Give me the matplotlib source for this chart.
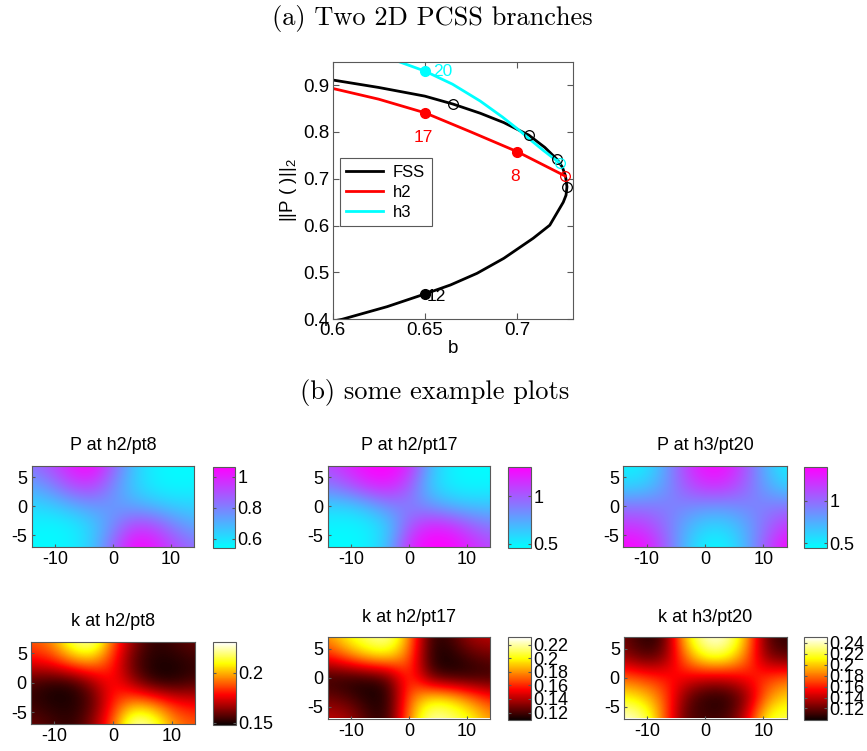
import numpy as np
import matplotlib
matplotlib.use('Agg')
import matplotlib.pyplot as plt
import matplotlib.ticker as ticker

plt.rcParams['font.family'] = ['Liberation Sans', 'DejaVu Sans']
plt.rcParams['mathtext.fontset'] = 'custom'
plt.rcParams['mathtext.rm'] = 'Liberation Sans'
plt.rcParams['axes.unicode_minus'] = False

# ---------------- (a) branch data ----------------
fss_b = [0.6, 0.625, 0.65, 0.6653, 0.68, 0.6928, 0.7063, 0.715, 0.7216, 0.7245,
         0.7262, 0.727, 0.7265, 0.725, 0.7177, 0.7087, 0.6928, 0.6783, 0.6639,
         0.65, 0.6296, 0.6052, 0.6]
fss_norm = [0.911, 0.895, 0.8765, 0.8595, 0.84, 0.82, 0.7933, 0.767, 0.7415, 0.725,
            0.706, 0.683, 0.665, 0.65, 0.601, 0.573, 0.5302, 0.4982, 0.4733,
            0.454, 0.427, 0.400, 0.396]

h2_b = [0.6, 0.625, 0.65, 0.675, 0.7, 0.715, 0.7261]
h2_norm = [0.893, 0.870, 0.841, 0.800, 0.758, 0.728, 0.7058]

h3_b = [0.628, 0.636, 0.65, 0.665, 0.68, 0.692, 0.701, 0.7063, 0.7144, 0.72, 0.7234]
h3_norm = [0.962, 0.95, 0.930, 0.902, 0.866, 0.832, 0.804, 0.786, 0.760, 0.743, 0.733]

# bifurcation points (open circles)
bp_fss_b = [0.6653, 0.7063, 0.7216, 0.7270]
bp_fss_norm = [0.8595, 0.7933, 0.7415, 0.683]
bp_h2 = (0.7261, 0.7058)
bp_h3 = (0.7234, 0.733)

# labelled solution points
pt_fss = (0.65, 0.454, '12')
pt_h2 = [(0.65, 0.841, '17'), (0.70, 0.758, '8')]
pt_h3 = (0.65, 0.930, '20')

# ---------------- (b) example fields (rows y=7..-7, cols x=-14..14) ----------------
P_h2_pt8 = [[0.84, 0.92, 1.03, 1.07, 0.87, 0.66, 0.57, 0.55, 0.55],
            [0.72, 0.80, 0.92, 0.94, 0.78, 0.64, 0.57, 0.55, 0.56],
            [0.62, 0.64, 0.70, 0.75, 0.75, 0.72, 0.68, 0.64, 0.63],
            [0.56, 0.55, 0.57, 0.64, 0.78, 0.94, 0.92, 0.80, 0.72],
            [0.55, 0.55, 0.57, 0.66, 0.87, 1.07, 1.03, 0.92, 0.84]]
P_h2_pt17 = [[1.08, 1.20, 1.32, 1.33, 1.20, 0.70, 0.50, 0.46, 0.46],
             [0.90, 1.02, 1.18, 1.22, 1.02, 0.62, 0.50, 0.47, 0.48],
             [0.60, 0.60, 0.70, 0.85, 0.88, 0.80, 0.70, 0.65, 0.65],
             [0.48, 0.47, 0.50, 0.62, 1.02, 1.22, 1.18, 1.02, 0.90],
             [0.46, 0.46, 0.50, 0.70, 1.20, 1.33, 1.32, 1.20, 1.08]]
P_h3_pt20 = [[0.48, 0.50, 0.76, 1.14, 1.38, 1.36, 1.09, 0.71, 0.48],
             [0.60, 0.62, 0.80, 1.07, 1.23, 1.22, 1.03, 0.77, 0.60],
             [0.95, 0.95, 0.93, 0.90, 0.85, 0.85, 0.90, 0.93, 0.95],
             [1.20, 1.18, 1.00, 0.75, 0.60, 0.60, 0.75, 1.00, 1.20],
             [1.40, 1.37, 1.08, 0.70, 0.47, 0.47, 0.72, 1.10, 1.40]]
k_h2_pt8 = [[0.189, 0.195, 0.220, 0.230, 0.189, 0.164, 0.152, 0.156, 0.160],
            [0.177, 0.181, 0.194, 0.198, 0.182, 0.156, 0.150, 0.150, 0.153],
            [0.155, 0.150, 0.150, 0.164, 0.181, 0.164, 0.150, 0.150, 0.155],
            [0.153, 0.150, 0.150, 0.156, 0.182, 0.198, 0.194, 0.181, 0.177],
            [0.160, 0.156, 0.152, 0.164, 0.189, 0.230, 0.220, 0.195, 0.189]]
k_h2_pt17 = [[0.182, 0.203, 0.217, 0.224, 0.180, 0.115, 0.119, 0.140, 0.143],
             [0.158, 0.176, 0.194, 0.197, 0.172, 0.113, 0.111, 0.121, 0.127],
             [0.115, 0.112, 0.113, 0.122, 0.168, 0.122, 0.113, 0.112, 0.115],
             [0.127, 0.121, 0.111, 0.113, 0.172, 0.197, 0.194, 0.176, 0.158],
             [0.143, 0.140, 0.119, 0.115, 0.180, 0.224, 0.217, 0.203, 0.182]]
k_h3_pt20 = [[0.122, 0.104, 0.111, 0.205, 0.247, 0.247, 0.197, 0.114, 0.107],
             [0.129, 0.111, 0.122, 0.182, 0.222, 0.222, 0.182, 0.122, 0.114],
             [0.175, 0.167, 0.159, 0.152, 0.144, 0.144, 0.156, 0.167, 0.175],
             [0.212, 0.202, 0.175, 0.122, 0.102, 0.102, 0.122, 0.182, 0.205],
             [0.247, 0.235, 0.175, 0.114, 0.114, 0.111, 0.144, 0.220, 0.225]]

panels = [
    ('P at h2/pt8', P_h2_pt8, 'cool', (0.54, 1.065), [0.6, 0.8, 1.0]),
    ('P at h2/pt17', P_h2_pt17, 'cool', (0.45, 1.31), [0.5, 1.0]),
    ('P at h3/pt20', P_h3_pt20, 'cool', (0.44, 1.40), [0.5, 1.0]),
    ('k at h2/pt8', k_h2_pt8, 'hot', (0.148, 0.23), [0.15, 0.2]),
    ('k at h2/pt17', k_h2_pt17, 'hot', (0.109, 0.231), [0.12, 0.14, 0.16, 0.18, 0.2, 0.22]),
    ('k at h3/pt20', k_h3_pt20, 'hot', (0.099, 0.25), [0.12, 0.14, 0.16, 0.18, 0.2, 0.22, 0.24]),
]

W, H = 867, 751
FRAME = '0.35'
FS_SMALL = 13


def px_axes(fig, x0, x1, y0, y1):
    """add axes from pixel box (top-left origin)"""
    return fig.add_axes([x0 / W, 1 - y1 / H, (x1 - x0) / W, (y1 - y0) / H])


fig = plt.figure(figsize=(W / 100, H / 100), dpi=100)

# section titles (LaTeX-like font)
fig.text(0.499, 1 - 19 / H, '(a) Two 2D PCSS branches', family='cmr10',
         fontsize=19, ha='center', va='center')
fig.text(0.501, 1 - 393 / H, '(b) some example plots', family='cmr10',
         fontsize=19, ha='center', va='center')

# ---------------- (a) ----------------
ax = px_axes(fig, 332.5, 572.5, 61.7, 319.3)
ax.plot(fss_b, fss_norm, color='black', lw=2, label='FSS')
ax.plot(h2_b, h2_norm, color='red', lw=2, label='h2')
ax.plot(h3_b, h3_norm, color='cyan', lw=2, label='h3')

ax.plot(bp_fss_b, bp_fss_norm, 'o', color='black', mfc='none', ms=7, mew=0.9)
ax.plot(*bp_h2, 'o', color='red', mfc='none', ms=7, mew=0.9)
ax.plot(*bp_h3, 'o', color='cyan', mfc='none', ms=7, mew=0.9)

ax.plot(pt_fss[0], pt_fss[1], 'o', color='black', ms=7)
ax.text(pt_fss[0] + 0.0012, pt_fss[1] - 0.006, pt_fss[2], fontsize=12.5, va='center')
for b, n, s in pt_h2:
    ax.plot(b, n, 'o', color='red', ms=7)
    ax.text(b - 0.001, n - 0.053, s, fontsize=12.5, color='red', ha='center', va='center')
ax.plot(pt_h3[0], pt_h3[1], 'o', color='cyan', ms=7)
ax.text(pt_h3[0] + 0.0045, pt_h3[1], pt_h3[2], fontsize=12.5, color='cyan', va='center')

ax.set_xlim(0.6, 0.73)
ax.set_ylim(0.4, 0.95)
ax.set_xticks([0.6, 0.65, 0.7])
ax.set_xticklabels(['0.6', '0.65', '0.7'])
ax.set_yticks([0.4, 0.5, 0.6, 0.7, 0.8, 0.9])
ax.set_yticklabels(['0.4', '0.5', '0.6', '0.7', '0.8', '0.9'])
ax.tick_params(direction='in', top=True, right=True, length=4, labelsize=13.5, pad=2,
               color=FRAME)
for sp in ax.spines.values():
    sp.set_color(FRAME)
ax.set_xlabel('b', fontsize=13.5, labelpad=1)
ax.set_ylabel(r'||P ( )||$_\mathregular{2}$', fontsize=13.5, labelpad=3)

leg = ax.legend(loc='upper left', bbox_to_anchor=(0.03, 0.626), borderaxespad=0,
                fontsize=12, fancybox=False, edgecolor=FRAME, framealpha=1,
                handlelength=2.2, labelspacing=0.3, borderpad=0.4, handletextpad=0.6)
leg.get_frame().set_linewidth(0.8)

# ---------------- (b) ----------------
img_boxes = [(31.7, 194.3, 465.7, 547.0), (327.7, 490.3, 465.7, 547.0), (623.3, 786.7, 465.7, 547.0),
             (31.0, 195.0, 641.7, 724.0), (327.7, 490.0, 637.3, 718.5), (624.0, 786.7, 637.3, 718.5)]
cb_boxes = [(212.7, 235.3, 466.7, 548.3), (508.3, 531.3, 466.7, 548.3), (804.0, 827.3, 466.7, 548.3),
            (212.7, 236.0, 642.3, 725.0), (508.3, 531.0, 637.3, 720.0), (804.0, 827.3, 637.3, 720.0)]

half = 1.75  # half cell so grid values sit on the box edges
for (title, field, cmap, (lo, hi), cticks), ib, cbb in zip(panels, img_boxes, cb_boxes):
    a = px_axes(fig, *ib)
    im = a.imshow(np.array(field), cmap=cmap, vmin=lo, vmax=hi, origin='upper',
                  extent=(-14 - half, 14 + half, -7 - half, 7 + half),
                  interpolation='bicubic', aspect='auto')
    a.set_xlim(-14, 14)
    a.set_ylim(-7, 7)
    a.set_xticks([-10, 0, 10])
    a.set_yticks([-5, 0, 5])
    a.tick_params(direction='in', length=2.5, labelsize=FS_SMALL, color=FRAME, pad=3)
    for sp in a.spines.values():
        sp.set_color(FRAME)
    a.set_title(title, fontsize=FS_SMALL, pad=11)

    c = px_axes(fig, *cbb)
    cb = fig.colorbar(im, cax=c)
    cb.set_ticks(cticks)
    cb.ax.yaxis.set_major_formatter(ticker.FormatStrFormatter('%g'))
    c.tick_params(direction='in', length=2.5, labelsize=FS_SMALL, left=True, right=True,
                  color=FRAME, pad=1.5)
    cb.outline.set_edgecolor(FRAME)
    c.minorticks_off()

fig.savefig('out.png', dpi=100)
